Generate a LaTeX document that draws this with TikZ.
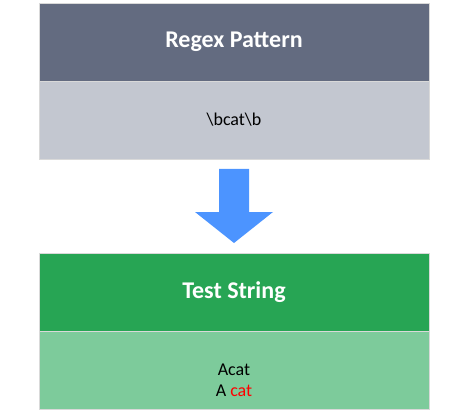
\documentclass[tikz,border=0pt]{standalone}
\usepackage{fontspec}
\setmainfont{Carlito}
\definecolor{slatedark}{HTML}{636B80}
\definecolor{slatelight}{HTML}{C3C7D0}
\definecolor{greendark}{HTML}{27A554}
\definecolor{greenlight}{HTML}{7DCB9B}
\definecolor{arrowblue}{HTML}{4C94FF}
\definecolor{matchred}{HTML}{FF0000}
\tikzset{
  headbox/.style={draw=white!85!black, line width=0.6pt, minimum width=390pt, minimum height=78pt, inner sep=0pt, text=white, font=\fontsize{24}{28}\selectfont\bfseries},
  bodybox/.style={draw=white!85!black, line width=0.6pt, minimum width=390pt, minimum height=78pt, inner sep=0pt, text=black, font=\fontsize{18}{21}\selectfont, align=center},
}
\begin{document}
\begin{tikzpicture}[x=1pt,y=1pt]
\useasboundingbox (0,0) rectangle (468,-414);
\node[headbox, fill=slatedark] (rh) at (234,-42) {Regex Pattern};
\node[bodybox, fill=slatelight] (rb) at (234,-120) {\textbackslash bcat\textbackslash b};
\node[headbox, fill=greendark] (th) at (234,-292) {Test String};
\node[bodybox, fill=greenlight] (tb) at (234,-370) {};
\node[font=\fontsize{18}{21}\selectfont, align=center, anchor=center] (tt) at (234,-380) {Acat\\A \textcolor{matchred}{cat}};
\fill[arrowblue] (219,-169) -- (249,-169) -- (249,-212) -- (273,-212) -- (234,-243) -- (195,-212) -- (219,-212) -- cycle;
\coordinate (arr) at (234,-206);
\end{tikzpicture}
\end{document}
